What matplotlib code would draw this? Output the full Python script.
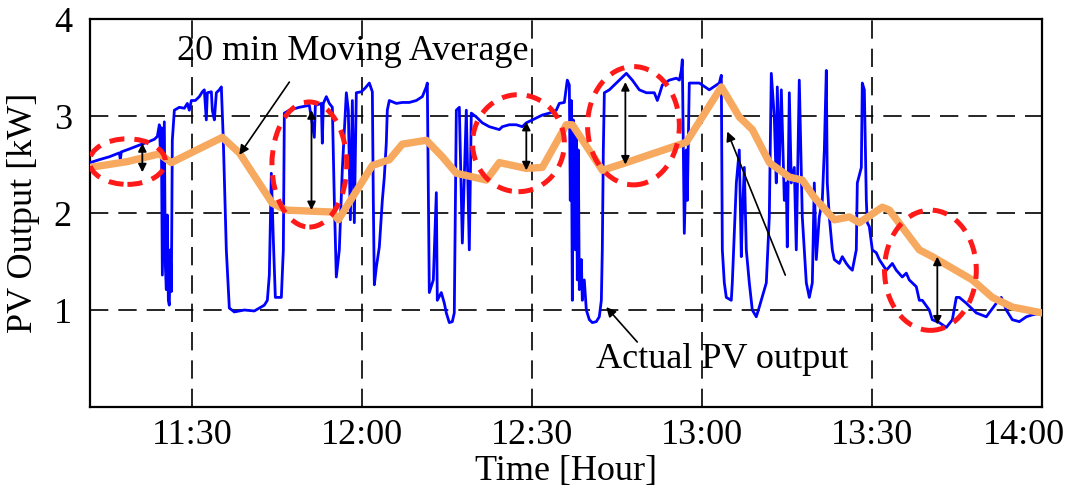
import matplotlib
matplotlib.use("Agg")
import matplotlib.pyplot as plt
from matplotlib.patches import Ellipse
from matplotlib.transforms import ScaledTranslation

plt.rcParams['font.family'] = ['Liberation Serif', 'DejaVu Serif']

# time in minutes after 11:00
actual_t = [12.05, 13.64, 15.41, 17.17, 17.35, 17.52, 18.93, 20.70, 22.11, 23.35, 23.88, 24.23, 24.41, 24.58,
            24.76, 24.93, 25.11, 25.29, 25.46, 25.64, 25.82, 25.99, 26.17, 26.35, 26.52, 26.88, 27.76, 28.64,
            29.17, 29.52, 29.88, 30.58, 31.29, 31.82, 32.17, 32.52, 32.70, 33.41, 33.58, 33.94, 34.29, 34.82,
            35.17, 35.52, 36.05, 36.58, 37.46, 39.23, 40.99, 41.88, 42.76, 43.29, 43.64, 43.99, 44.35, 44.70,
            45.76, 46.11, 46.29, 47.17, 48.94, 50.70, 51.58, 51.76, 52.82, 52.99, 53.17, 53.70, 54.23, 54.76,
            55.11, 55.46, 55.99, 56.52, 57.23, 57.58, 57.94, 58.29, 58.64, 58.99, 59.88, 60.58, 61.29, 61.82,
            61.99, 62.17, 62.52, 63.05, 63.58, 63.93, 64.28, 64.46, 64.81, 66.05, 67.11, 68.34, 69.58, 70.64,
            71.34, 71.52, 71.87, 72.58, 73.11, 73.28, 73.99, 74.52, 74.87, 75.40, 75.93, 76.28, 76.64, 77.17,
            77.70, 78.40, 78.93, 79.28, 80.17, 81.22, 82.46, 84.23, 84.75, 85.99, 87.22, 88.28, 88.99, 90.05,
            91.81, 93.05, 94.28, 94.81, 95.70, 96.22, 96.58, 96.75, 96.93, 97.11, 97.28, 97.64, 97.81, 97.99,
            98.17, 98.34, 98.70, 98.87, 99.22, 99.58, 100.11, 100.64, 101.34, 101.87, 102.23, 102.40, 102.58,
            102.76, 103.64, 104.87, 106.64, 107.70, 108.93, 110.17, 111.58, 112.11, 112.46, 112.99, 114.22,
            115.46, 116.00, 116.34, 116.52, 116.87, 117.22, 117.40, 117.75, 119.52, 121.28, 123.05, 123.40,
            123.58, 123.93, 124.28, 125.16, 125.34, 126.05, 126.57, 126.93, 127.10, 127.46, 127.81, 128.34,
            128.87, 129.57, 130.10, 131.34, 131.87, 132.22, 132.75, 133.10, 133.28, 133.63, 133.99, 134.52,
            134.87, 135.04, 135.40, 135.75, 136.28, 136.63, 137.16, 137.69, 138.40, 138.93, 139.46, 139.81,
            140.16, 140.69, 141.22, 141.58, 141.93, 142.10, 142.46, 142.99, 143.34, 144.22, 144.75, 145.46,
            145.99, 146.52, 147.22, 147.40, 148.11, 148.28, 148.64, 148.99, 149.16, 149.52, 150.05, 150.75,
            151.28, 152.52, 153.58, 154.28, 155.34, 156.04, 156.57, 157.81, 158.34, 158.87, 160.10, 160.63,
            161.87, 163.11, 164.17, 164.87, 165.40, 166.63, 168.40, 170.16, 171.93, 172.81, 173.69, 174.75,
            175.99, 177.22, 178.28, 180.00]
actual_kw = [2.52, 2.55, 2.58, 2.62, 2.55, 2.63, 2.66, 2.70, 2.73, 2.76, 2.79, 2.91, 2.65, 2.88,
             1.36, 2.13, 2.94, 1.46, 1.21, 1.98, 1.10, 1.05, 1.62, 1.19, 2.75, 3.06, 3.09, 3.08,
             3.13, 3.06, 3.16, 3.16, 3.20, 3.25, 3.27, 2.96, 3.24, 3.25, 3.06, 2.96, 3.24, 3.27,
             3.30, 2.75, 1.62, 1.02, 0.98, 1.00, 0.99, 1.02, 1.05, 1.10, 1.36, 2.41, 1.72, 1.13,
             1.13, 1.62, 3.03, 3.06, 3.09, 3.11, 2.78, 3.11, 3.13, 2.72, 3.13, 3.20, 3.13, 3.09,
             2.13, 1.34, 1.62, 2.45, 3.24, 3.06, 1.93, 3.16, 1.90, 3.24, 3.25, 3.29, 3.34, 3.25,
             2.13, 1.26, 1.44, 1.65, 2.13, 2.37, 2.72, 3.06, 3.16, 3.13, 3.14, 3.14, 3.16, 3.20,
             3.30, 3.34, 1.18, 1.31, 2.21, 1.10, 1.18, 1.07, 0.97, 0.87, 0.88, 0.97, 3.06, 3.09,
             1.69, 3.06, 1.62, 3.03, 2.99, 2.93, 2.89, 2.86, 2.89, 2.91, 2.91, 2.89, 2.93, 2.96,
             3.01, 3.03, 3.06, 3.13, 3.14, 3.37, 3.32, 2.13, 3.16, 1.10, 2.96, 1.62, 2.86, 1.31,
             2.65, 1.21, 1.52, 1.10, 1.31, 1.00, 0.90, 0.87, 0.88, 0.93, 1.10, 1.62, 2.65,
             3.24, 3.27, 3.34, 3.44, 3.37, 3.27, 3.24, 3.24, 3.16, 3.22, 3.32, 3.37,
             3.39, 3.37, 3.47, 3.58, 1.79, 2.65, 2.13, 3.34, 3.34, 3.27, 3.34, 3.42,
             1.62, 1.28, 1.13, 1.10, 1.28, 2.31, 2.65, 1.55, 1.96, 2.47, 1.62, 1.28,
             1.00, 0.93, 1.03, 1.28, 1.96, 3.44, 2.99, 2.31, 3.30, 2.47, 3.27, 2.13,
             2.31, 1.65, 3.24, 2.31, 2.47, 1.62, 3.37, 1.96, 1.28, 1.13, 1.28, 2.31,
             1.52, 1.96, 2.13, 2.65, 3.47, 2.31, 1.96, 1.62, 1.52, 1.48, 1.55, 1.48,
             1.44, 1.41, 1.62, 2.31, 2.47, 3.34, 3.27, 2.13, 1.90, 1.86, 1.62, 1.59,
             1.52, 1.41, 1.48, 1.41, 1.34, 1.38, 1.31, 1.24, 1.10, 1.10, 1.00, 0.90,
             0.87, 0.82, 0.90, 1.13, 1.13, 1.07, 0.97, 0.93, 1.07, 1.13, 1.00, 0.90,
             0.88, 0.93, 0.95, 0.97]

avg_t = [12.0, 18.58, 24.23, 26.35, 35.35, 38.35, 44.17, 46.64, 54.76, 55.82, 61.82, 64.82, 67.11, 71.35,
         74.17, 76.64, 81.94, 84.23, 88.99, 91.82, 96.05, 97.11, 102.41, 106.64, 114.76, 117.23, 123.41,
         126.58, 128.88, 131.88, 135.41, 137.70, 139.82, 143.35, 146.0, 147.76, 151.82, 153.05, 158.35,
         160.64, 167.70, 171.23, 174.76, 180.0]
avg_kw = [2.47, 2.53, 2.61, 2.52, 2.78, 2.62, 2.10, 2.03, 2.01, 1.93, 2.49, 2.55, 2.71, 2.75,
          2.58, 2.41, 2.34, 2.52, 2.46, 2.47, 2.91, 2.91, 2.44, 2.52, 2.68, 2.73, 3.30,
          2.99, 2.86, 2.52, 2.37, 2.34, 2.16, 1.93, 1.96, 1.90, 2.06, 2.03, 1.62,
          1.55, 1.31, 1.13, 1.03, 0.97]

tick_minutes = [30, 60, 90, 120, 150, 180]
tick_labels = ['11:30', '12:00', '12:30', '13:00', '13:30', '14:00']
y_ticks = [1, 2, 3, 4]

# highlighted regions (center time, center kW, width min, height kW)
ell_t = [18.6, 50.7, 87.6, 107.9, 160.3]
ell_kw = [2.53, 2.50, 2.72, 2.90, 1.41]
ell_w = [13.4, 13.2, 16.2, 16.2, 16.2]
ell_h = [0.47, 1.29, 1.00, 1.22, 1.24]

# gap arrows (time, kW top, kW bottom)
gap_t = [21.23, 51.08, 88.99, 106.47, 161.52]
gap_top = [2.72, 3.06, 2.94, 3.35, 1.55]
gap_bot = [2.42, 2.03, 2.44, 2.50, 0.85]

fig = plt.figure(figsize=(10.68, 4.88), dpi=100)
ax = fig.add_axes([0.0843, 0.166, 0.8914, 0.795])

ax.plot(actual_t, actual_kw, color='#0000FF', lw=2.0, zorder=3)
ax.plot(avg_t, avg_kw, color='#F7A95F', lw=5.3, solid_joinstyle='round', solid_capstyle='round', zorder=4)

for ct, ck, w, h in zip(ell_t, ell_kw, ell_w, ell_h):
    e = Ellipse((ct, ck), w, h, fill=False, ec='#FF1A1A', lw=3.6, ls=(0, (3, 2)), zorder=5)
    ax.add_patch(e)

for gt, gtop, gbot in zip(gap_t, gap_top, gap_bot):
    ax.annotate('', xy=(gt, gtop), xytext=(gt, gbot),
                arrowprops=dict(arrowstyle='<|-|>', color='black', lw=1.3, mutation_scale=12,
                                shrinkA=0, shrinkB=0), zorder=6)

ax.annotate('', xy=(38.34, 2.60), xytext=(47.17, 3.35),
            arrowprops=dict(arrowstyle='-|>', color='black', lw=1.2, mutation_scale=14,
                            shrinkA=0, shrinkB=0), zorder=6)
ax.annotate('', xy=(103.1, 1.03), xytext=(108.57, 0.67),
            arrowprops=dict(arrowstyle='-|>', color='black', lw=1.2, mutation_scale=14,
                            shrinkA=0, shrinkB=0), zorder=6)
ax.annotate('', xy=(124.46, 2.84), xytext=(134.69, 1.36),
            arrowprops=dict(arrowstyle='-|>', color='black', lw=1.2, mutation_scale=14,
                            shrinkA=0, shrinkB=0), zorder=6)

ax.text(27.4, 3.577, '20 min Moving Average', fontsize=26, ha='left', va='baseline', zorder=7)
ax.text(101.34, 0.40, 'Actual PV output', fontsize=26, ha='left', va='baseline', zorder=7)

ax.set_xlim(12, 180)
ax.set_ylim(0, 4)
ax.set_xticks(tick_minutes)
ax.set_xticklabels(tick_labels)
ax.set_yticks(y_ticks)
ax.tick_params(axis='both', length=0, labelsize=26)
ax.tick_params(axis='x', pad=9)
ax.tick_params(axis='y', pad=13)
ax.grid(True, color='black', lw=1.2, ls=(0, (11, 6)))
ax.set_axisbelow(True)
for s in ax.spines.values():
    s.set_linewidth(1.6)

# last tick label sits slightly left so it stays inside the figure
last = ax.get_xticklabels()[-1]
last.set_transform(last.get_transform() + ScaledTranslation(-0.18, 0, fig.dpi_scale_trans))

ax.set_xlabel('Time [Hour]', fontsize=26, labelpad=2)
ax.set_ylabel('PV Output [kW]', fontsize=26, labelpad=10)

fig.savefig('out.png', dpi=100)
